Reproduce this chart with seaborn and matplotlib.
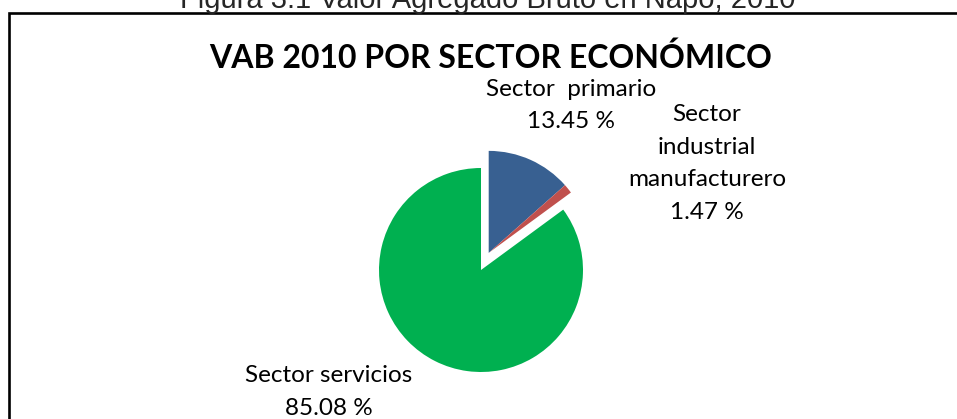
import matplotlib
matplotlib.use("Agg")
import matplotlib.pyplot as plt
import seaborn as sns
from matplotlib.patches import Rectangle

sectors = ["Sector  primario", "Sector\nindustrial\nmanufacturero", "Sector servicios"]
values = [13.45, 1.47, 85.08]
colors = ["#386091", "#C0504D", "#00B050"]
explode = [0.184, 0.184, 0.0]

sns.set_theme(style="white")
plt.rcParams["font.family"] = ["Lato", "DejaVu Sans"]

W, H = 957, 419
fig = plt.figure(figsize=(W / 100, H / 100), dpi=100)
fig.patch.set_facecolor("white")

def fx(x):
    return x / W

def fy(y):
    return 1 - y / H

# outer frame (continues past the right and bottom edges)
fig.patches.append(Rectangle((fx(9), fy(460)), fx(1000), (460 - 13) / H,
                             transform=fig.transFigure, fill=False,
                             edgecolor="black", linewidth=1.9))

fig.text(fx(488), fy(7.5), "Figura 3.1 Valor Agregado Bruto en Napo, 2010",
         ha="center", va="baseline", fontsize=21, family=["Liberation Sans"])

fig.text(fx(491), fy(68), "VAB 2010 POR SECTOR ECONÓMICO",
         ha="center", va="baseline", fontsize=23, fontweight="bold",
         color="black")

cx, cy, r = 481, 270, 102
ax = fig.add_axes([fx(cx - r), fy(cy + r), 2 * r / W, 2 * r / H])
wedges, _ = ax.pie(values, colors=colors, explode=explode, startangle=90,
                   counterclock=False, radius=1,
                   wedgeprops=dict(linewidth=0))
# the small slice is pulled out together with the primary-sector slice
wedges[1].set_center(wedges[0].center)
ax.set_xlim(-1, 1)
ax.set_ylim(-1, 1)
ax.set_aspect("equal")
ax.axis("off")

label_pos = [(571, 96), (707, 121), (329, 382)]
pitch = 32.5
for name, v, (x, y) in zip(sectors, values, label_pos):
    lines = f"{name}\n{v:.2f} %".split("\n")
    for i, line in enumerate(lines):
        fig.text(fx(x), fy(y + i * pitch), line, ha="center", va="baseline",
                 fontsize=17.5, color="black")

fig.savefig("out.png", dpi=100)
